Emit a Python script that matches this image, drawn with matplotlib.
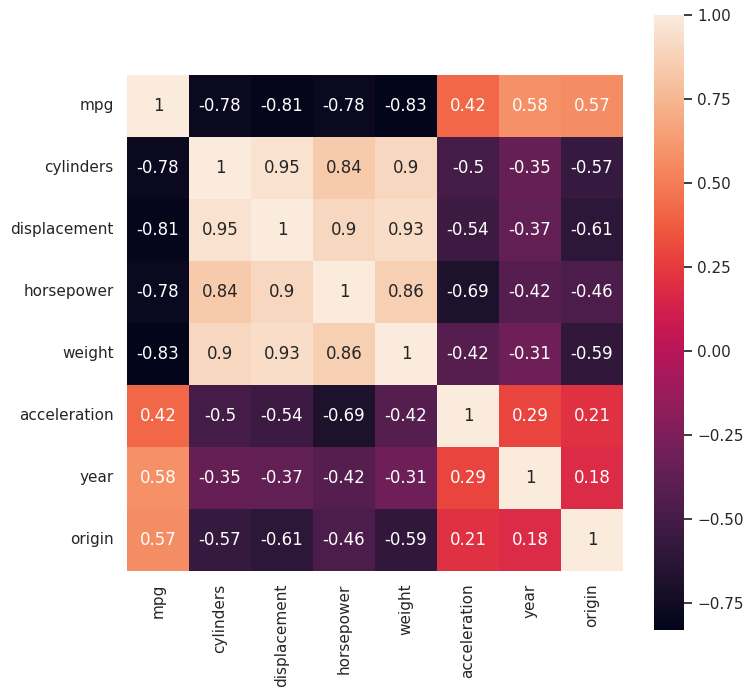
import numpy as np
import pandas as pd
import matplotlib
matplotlib.use("Agg")
import matplotlib.pyplot as plt
import seaborn as sns

sns.set_theme()

columns = ["mpg", "cylinders", "displacement", "horsepower",
           "weight", "acceleration", "year", "origin"]

# correlation values
mpg          = [1.00, -0.78, -0.81, -0.78, -0.83,  0.42,  0.58,  0.57]
cylinders    = [-0.78, 1.00,  0.95,  0.84,  0.90, -0.50, -0.35, -0.57]
displacement = [-0.81, 0.95,  1.00,  0.90,  0.93, -0.54, -0.37, -0.61]
horsepower   = [-0.78, 0.84,  0.90,  1.00,  0.86, -0.69, -0.42, -0.46]
weight       = [-0.83, 0.90,  0.93,  0.86,  1.00, -0.42, -0.31, -0.59]
acceleration = [0.42, -0.50, -0.54, -0.69, -0.42,  1.00,  0.29,  0.21]
year         = [0.58, -0.35, -0.37, -0.42, -0.31,  0.29,  1.00,  0.18]
origin       = [0.57, -0.57, -0.61, -0.46, -0.59,  0.21,  0.18,  1.00]

corr = pd.DataFrame([mpg, cylinders, displacement, horsepower,
                     weight, acceleration, year, origin],
                    index=columns, columns=columns)

fig = plt.figure(figsize=(7.54, 6.98), dpi=100)
fig.patch.set_facecolor("white")
ax = fig.add_axes([0.1684, 0.1819, 0.6578, 0.7120])
cax = fig.add_axes([0.8674, 0.0974, 0.0398, 0.8811])

sns.heatmap(corr, annot=True, square=True, ax=ax, cbar_ax=cax)

fig.savefig("out.png", dpi=100, facecolor="white")
